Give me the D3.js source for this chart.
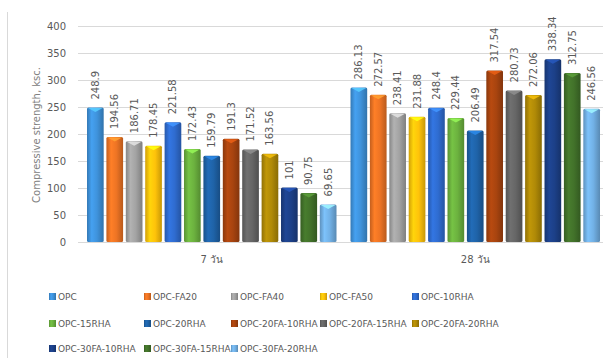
<!DOCTYPE html>
<html>
<head>
<meta charset="utf-8">
<script src="https://cdn.jsdelivr.net/npm/d3@7/dist/d3.min.js"></script>
<style>
  html, body { margin: 0; padding: 0; background: #fff; }
  svg text { font-family: "DejaVu Sans", "Noto Sans", sans-serif; }
</style>
</head>
<body>
<svg id="chart" width="603" height="358"></svg>
<script>
// Curing ages (x categories)
const categories = ["7 วัน", "28 วัน"];

// Mix designs (series)
const seriesNames = [
  "OPC", "OPC-FA20", "OPC-FA40", "OPC-FA50", "OPC-10RHA",
  "OPC-15RHA", "OPC-20RHA", "OPC-20FA-10RHA", "OPC-20FA-15RHA", "OPC-20FA-20RHA",
  "OPC-30FA-10RHA", "OPC-30FA-15RHA", "OPC-30FA-20RHA"
];

// Compressive strength (ksc.) at 7 days and 28 days, one entry per mix
const strength7 = [248.9, 194.56, 186.71, 178.45, 221.58, 172.43, 159.79, 191.3, 171.52, 163.56, 101, 90.75, 69.65];
const strength28 = [286.13, 272.57, 238.41, 231.88, 248.4, 229.44, 206.49, 317.54, 280.73, 272.06, 338.34, 312.75, 246.56];

const seriesColors = [
  "#3f93dc", "#ee7424", "#a3a3a3", "#ffc30a", "#2f6cd0",
  "#6cb23f", "#1f63a8", "#a8440f", "#666666", "#b08a07",
  "#1c4088", "#42722a", "#72b1e6"
];

const yTicks = [0, 50, 100, 150, 200, 250, 300, 350, 400];

const svg = d3.select("#chart");
const plot = { left: 80, right: 607, top: 26, bottom: 242 };

// chart frame edge
svg.append("line")
  .attr("x1", 7.5).attr("x2", 7.5).attr("y1", 12).attr("y2", 358)
  .attr("stroke", "#d9d9d9").attr("stroke-width", 1);

const y = d3.scaleLinear().domain([0, 400]).range([plot.bottom, plot.top]);
const x0 = d3.scaleBand().domain(categories).range([plot.left, plot.right]).paddingInner(0).paddingOuter(0);
const x1 = d3.scaleBand().domain(seriesNames).range([7, x0.bandwidth() - 7]).paddingInner(0.14).paddingOuter(0);

// gradients for the rounded 3D bar look
const defs = svg.append("defs");
seriesColors.forEach((c, i) => {
  const base = d3.color(c);
  const g = defs.append("linearGradient").attr("id", "g" + i)
    .attr("x1", "0").attr("x2", "1").attr("y1", "0").attr("y2", "0");
  g.append("stop").attr("offset", "0").attr("stop-color", base.darker(0.55));
  g.append("stop").attr("offset", "0.28").attr("stop-color", base.brighter(0.25));
  g.append("stop").attr("offset", "0.6").attr("stop-color", base);
  g.append("stop").attr("offset", "1").attr("stop-color", base.darker(0.7));
});

// gridlines
svg.append("g")
  .selectAll("line").data(yTicks).join("line")
  .attr("x1", 78).attr("x2", 603)
  .attr("y1", d => Math.round(y(d)) + 0.5).attr("y2", d => Math.round(y(d)) + 0.5)
  .attr("stroke", "#d9d9d9").attr("stroke-width", 1);

// y axis labels
const yAxis = d3.axisLeft(y).tickValues(yTicks).tickSize(0).tickPadding(0);
const yg = svg.append("g").attr("transform", `translate(66,0)`).call(yAxis);
yg.select(".domain").remove();
yg.selectAll("text").attr("fill", "#595959").style("font-size", "10px");

// y axis title
svg.append("text")
  .attr("transform", `translate(40,135) rotate(-90)`)
  .attr("text-anchor", "middle")
  .attr("fill", "#808080").style("font-size", "10px")
  .text("Compressive strength, ksc.");

// category labels
const xAxis = d3.axisBottom(x0).tickSize(0).tickPadding(0);
const xg = svg.append("g").attr("transform", `translate(0,${plot.bottom + 14})`).call(xAxis);
xg.select(".domain").remove();
xg.selectAll("text").attr("fill", "#595959").style("font-size", "10px");

const groups = [strength7, strength28];

const cat = svg.selectAll("g.cat").data(categories).join("g")
  .attr("class", "cat")
  .attr("transform", d => `translate(${x0(d)},0)`);

cat.each(function (c, ci) {
  const g = d3.select(this);
  const rows = seriesNames.map((s, i) => ({ s, i, v: groups[ci][i] }));
  const bw = x1.bandwidth();

  const bar = g.selectAll("g.bar").data(rows).join("g").attr("class", "bar");
  bar.append("rect")
    .attr("x", d => x1(d.s))
    .attr("y", d => y(d.v))
    .attr("width", bw)
    .attr("height", d => y(0) - y(d.v))
    .attr("rx", 1.5)
    .attr("fill", d => `url(#g${d.i})`);

  // lighter cap at the top of each bar
  bar.append("path")
    .attr("d", d => {
      const xl = x1(d.s), yt = y(d.v);
      return `M${xl + 1},${yt + 0.5} L${xl + bw - 1},${yt + 0.5} L${xl + bw * 0.5},${yt + 4.5} Z`;
    })
    .attr("fill", d => d3.color(seriesColors[d.i]).brighter(0.9))
    .attr("opacity", 0.9);

  // value labels
  bar.append("text")
    .attr("transform", d => `translate(${x1(d.s) + bw / 2 + 3.5},${y(d.v) - 8}) rotate(-90)`)
    .attr("text-anchor", "start")
    .attr("fill", "#595959").style("font-size", "10px")
    .text(d => d.v);
});

// legend: 5 columns
const legendCols = [49, 144, 231, 320, 412];
const legendRows = [297, 324, 349];
const leg = svg.append("g").selectAll("g").data(seriesNames).join("g")
  .attr("transform", (d, i) => `translate(${legendCols[i % 5]},${legendRows[Math.floor(i / 5)]})`);
leg.append("rect")
  .attr("x", 0).attr("y", -4).attr("width", 7).attr("height", 7)
  .attr("fill", (d, i) => `url(#g${i})`);
leg.append("text")
  .attr("x", 9).attr("y", 3)
  .attr("fill", "#595959").style("font-size", "9px")
  .text(d => d);
</script>
</body>
</html>
